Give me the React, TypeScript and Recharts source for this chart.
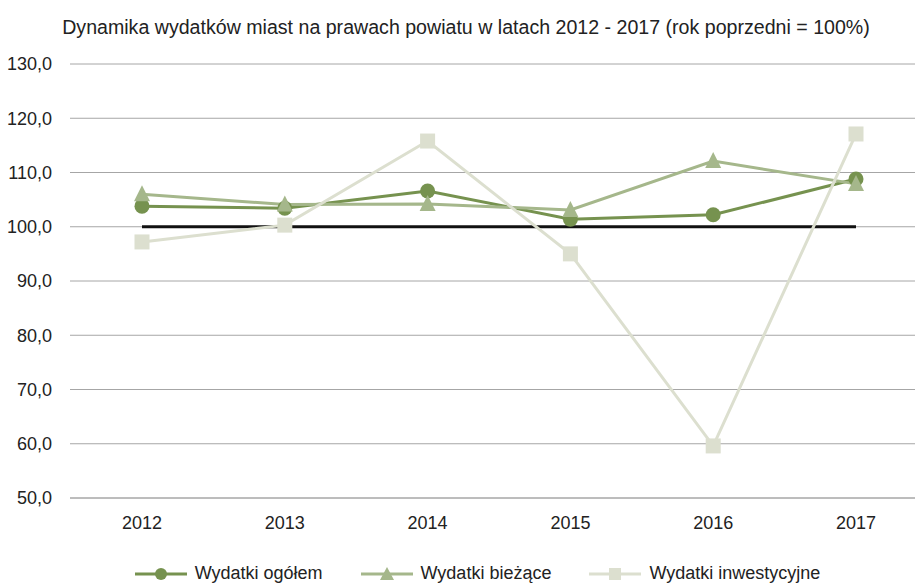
import { LineChart, Line, XAxis, YAxis, CartesianGrid, Legend } from 'recharts';

const years = ['2012', '2013', '2014', '2015', '2016', '2017'];
const ogolem = [103.8, 103.4, 106.6, 101.4, 102.2, 108.8];
const biezace = [106.0, 104.1, 104.2, 103.1, 112.1, 107.9];
const inwestycyjne = [97.2, 100.3, 115.8, 95.0, 59.6, 117.1];
const baseline = [100, 100, 100, 100, 100, 100];
const yTicks = [50, 60, 70, 80, 90, 100, 110, 120, 130];

const data = years.map((year, i) => ({
  year,
  ogolem: ogolem[i],
  biezace: biezace[i],
  inwestycyjne: inwestycyjne[i],
  base: baseline[i],
}));

const FONT = '"Liberation Sans Narrow", "Arial Narrow", "Liberation Sans", sans-serif';
const C_OGOLEM = '#76924f';
const C_BIEZACE = '#a5b78b';
const C_INWEST = '#dcdfcf';

interface DotProps {
  cx?: number;
  cy?: number;
  index?: number;
}

function CircleDot({ cx, cy, index }: DotProps) {
  if (cx == null || cy == null) return null;
  return <circle key={`c-${index}`} cx={cx} cy={cy} r={7.5} fill={C_OGOLEM} />;
}

function TriangleDot({ cx, cy, index }: DotProps) {
  if (cx == null || cy == null) return null;
  const s = 8;
  return (
    <path
      key={`t-${index}`}
      d={`M${cx},${cy - s - 1} L${cx + s},${cy + s - 1} L${cx - s},${cy + s - 1} Z`}
      fill={C_BIEZACE}
    />
  );
}

function SquareDot({ cx, cy, index }: DotProps) {
  if (cx == null || cy == null) return null;
  return <rect key={`s-${index}`} x={cx - 7.5} y={cy - 7.5} width={15} height={15} fill={C_INWEST} />;
}

const legendItems = [
  { label: 'Wydatki ogółem', color: C_OGOLEM, marker: 'circle' },
  { label: 'Wydatki bieżące', color: C_BIEZACE, marker: 'triangle' },
  { label: 'Wydatki inwestycyjne', color: C_INWEST, marker: 'square' },
];

function LegendContent() {
  return (
    <div style={{ display: 'flex', justifyContent: 'center', gap: 38, fontFamily: FONT, fontSize: 18, color: '#222' }}>
      {legendItems.map(item => (
        <div key={item.label} style={{ display: 'flex', alignItems: 'center' }}>
          <svg width={52} height={16} style={{ marginRight: 8 }}>
            <line x1={0} y1={8} x2={52} y2={8} stroke={item.color} strokeWidth={3} />
            {item.marker === 'circle' && <circle cx={26} cy={8} r={6} fill={item.color} />}
            {item.marker === 'triangle' && <path d="M26,1 L33,14 L19,14 Z" fill={item.color} />}
            {item.marker === 'square' && <rect x={20} y={2} width={12} height={12} fill={item.color} />}
          </svg>
          <span>{item.label}</span>
        </div>
      ))}
    </div>
  );
}

export default function App() {
  return (
    <div style={{ position: 'absolute', left: 0, top: 0, width: 915, height: 583, overflow: 'hidden', background: '#fff' }}>
      <div
        style={{
          position: 'absolute',
          left: 0,
          top: 16,
          width: 932,
          textAlign: 'center',
          fontFamily: FONT,
          fontSize: 19.6,
          color: '#222',
        }}
      >
        Dynamika wydatków miast na prawach powiatu w latach 2012 - 2017 (rok poprzedni = 100%)
      </div>
      <LineChart width={930} height={583} data={data} margin={{ top: 64, right: 2, bottom: 0, left: 0 }}>
        <CartesianGrid vertical={false} stroke="#a6a6a6" strokeWidth={1} />
        <XAxis
          dataKey="year"
          height={85}
          padding={{ left: 72, right: 72 }}
          tickLine={false}
          tickSize={0}
          tickMargin={18}
          axisLine={{ stroke: '#a6a6a6' }}
          tick={{ fontFamily: FONT, fontSize: 18, fill: '#222' }}
        />
        <YAxis
          width={70}
          domain={[50, 130]}
          ticks={yTicks}
          axisLine={false}
          tickLine={false}
          tickSize={0}
          tickMargin={18}
          tickFormatter={(v: number) => v.toFixed(1).replace('.', ',')}
          tick={{ fontFamily: FONT, fontSize: 18, fill: '#222' }}
        />
        <Line
          dataKey="base"
          stroke="#111"
          strokeWidth={3}
          dot={false}
          legendType="none"
          isAnimationActive={false}
        />
        <Line
          dataKey="ogolem"
          name="Wydatki ogółem"
          stroke={C_OGOLEM}
          strokeWidth={3}
          dot={CircleDot}
          activeDot={false}
          isAnimationActive={false}
        />
        <Line
          dataKey="biezace"
          name="Wydatki bieżące"
          stroke={C_BIEZACE}
          strokeWidth={3}
          dot={TriangleDot}
          activeDot={false}
          isAnimationActive={false}
        />
        <Line
          dataKey="inwestycyjne"
          name="Wydatki inwestycyjne"
          stroke={C_INWEST}
          strokeWidth={3}
          dot={SquareDot}
          activeDot={false}
          isAnimationActive={false}
        />
        <Legend
          layout="horizontal"
          verticalAlign="middle"
          align="center"
          content={LegendContent}
          wrapperStyle={{ top: 563, left: 20, width: 915 }}
        />
      </LineChart>
    </div>
  );
}
